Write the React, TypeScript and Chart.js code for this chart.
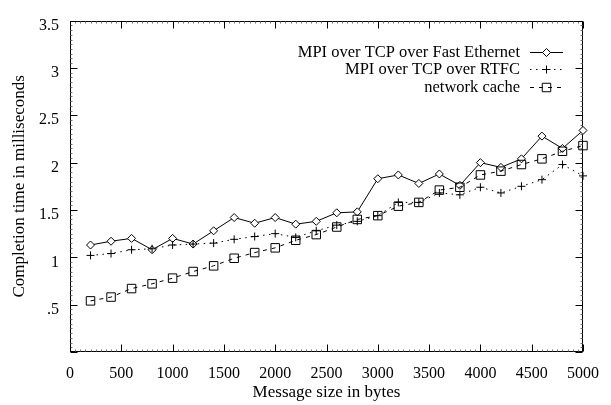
import React, { useEffect, useRef } from 'react';
import { Chart, registerables } from 'chart.js';
import { drawPoint } from 'chart.js/helpers';

Chart.register(...registerables);

const messageSizes = [200, 400, 600, 800, 1000, 1200, 1400, 1600, 1800, 2000, 2200, 2400, 2600, 2800, 3000, 3200, 3400, 3600, 3800, 4000, 4200, 4400, 4600, 4800, 5000];
const fastEthernet = [1.13, 1.17, 1.20, 1.08, 1.20, 1.14, 1.28, 1.42, 1.36, 1.42, 1.35, 1.38, 1.47, 1.48, 1.83, 1.87, 1.78, 1.88, 1.76, 2.00, 1.95, 2.04, 2.28, 2.15, 2.34];
const rtfc = [1.02, 1.04, 1.08, 1.09, 1.13, 1.14, 1.15, 1.19, 1.22, 1.25, 1.21, 1.28, 1.34, 1.38, 1.44, 1.58, 1.58, 1.68, 1.66, 1.74, 1.68, 1.75, 1.82, 1.98, 1.86];
const networkCache = [0.54, 0.58, 0.67, 0.72, 0.78, 0.85, 0.91, 0.99, 1.05, 1.10, 1.18, 1.24, 1.32, 1.40, 1.44, 1.54, 1.58, 1.71, 1.74, 1.87, 1.91, 1.98, 2.04, 2.12, 2.18];
const seriesLabels = ['MPI over TCP over Fast Ethernet', 'MPI over TCP over RTFC', 'network cache'];
const xTitle = 'Message size in bytes';
const yTitle = 'Completion time in milliseconds';

const FONT = '"Liberation Serif", "Times New Roman", serif';

const framePlugin = {
  id: 'gpFrame',
  beforeDatasetsDraw(chart: any) {
    const { ctx, chartArea, scales } = chart;
    const xs = scales.x, ys = scales.y;
    const L = Math.round(chartArea.left) + 0.5;
    const R = Math.round(chartArea.right) - 0.5;
    const T = Math.round(chartArea.top) + 0.5;
    const B = Math.round(chartArea.bottom) - 0.5;
    ctx.save();
    ctx.strokeStyle = '#000';
    ctx.lineWidth = 1;
    ctx.strokeRect(L, T, R - L, B - T);
    // minor ticks
    ctx.strokeStyle = '#777';
    ctx.beginPath();
    for (let v = 0; v <= 5000; v += 50) {
      if (v % 500 === 0) continue;
      const px = Math.round(xs.getPixelForValue(v)) + 0.5;
      ctx.moveTo(px, B); ctx.lineTo(px, B - 2);
      ctx.moveTo(px, T); ctx.lineTo(px, T + 2);
    }
    for (let i = 0; i <= 70; i++) {
      if (i % 10 === 0) continue;
      const py = Math.round(ys.getPixelForValue(i * 0.05)) + 0.5;
      ctx.moveTo(L, py); ctx.lineTo(L + 2, py);
      ctx.moveTo(R, py); ctx.lineTo(R - 2, py);
    }
    ctx.stroke();
    // major ticks
    ctx.strokeStyle = '#000';
    ctx.beginPath();
    xs.ticks.forEach((t: any) => {
      const px = Math.round(xs.getPixelForValue(t.value)) + 0.5;
      ctx.moveTo(px, B); ctx.lineTo(px, B - 7);
      ctx.moveTo(px, T); ctx.lineTo(px, T + 7);
    });
    ys.ticks.forEach((t: any) => {
      const py = Math.round(ys.getPixelForValue(t.value)) + 0.5;
      ctx.moveTo(L, py); ctx.lineTo(L + 7, py);
      ctx.moveTo(R, py); ctx.lineTo(R - 7, py);
    });
    ctx.stroke();
    ctx.restore();
  },
};

const legendPlugin = {
  id: 'gpLegend',
  afterDraw(chart: any) {
    const { ctx, chartArea } = chart;
    const textRight = chartArea.right - 63;
    const x0 = chartArea.right - 53;
    const x1 = chartArea.right - 20;
    ctx.save();
    chart.data.datasets.forEach((ds: any, i: number) => {
      const y = Math.round(chartArea.top + 31 + i * 17.5) + 0.5;
      ctx.fillStyle = '#000';
      ctx.font = '16.5px ' + FONT;
      ctx.textAlign = 'right';
      ctx.textBaseline = 'middle';
      ctx.fillText(ds.label, textRight, y);
      ctx.strokeStyle = '#000';
      ctx.lineWidth = 1;
      ctx.setLineDash(ds.borderDash || []);
      ctx.beginPath();
      ctx.moveTo(x0, y);
      ctx.lineTo(x1, y);
      ctx.stroke();
      ctx.setLineDash([]);
      ctx.fillStyle = ds.pointBackgroundColor;
      ctx.strokeStyle = '#000';
      drawPoint(ctx, { pointStyle: ds.pointStyle, radius: ds.pointRadius, rotation: 0, borderWidth: 1 }, (x0 + x1) / 2, y);
    });
    ctx.restore();
  },
};

export default function App() {
  const canvasRef = useRef<HTMLCanvasElement | null>(null);

  useEffect(() => {
    const canvas = canvasRef.current;
    if (!canvas) return;
    const toXY = (vals: number[]) => vals.map((v, i) => ({ x: messageSizes[i], y: v }));
    const chart = new Chart(canvas, {
      type: 'line',
      data: {
        datasets: [
          {
            label: seriesLabels[0],
            data: toXY(fastEthernet),
            borderColor: '#000',
            borderWidth: 1,
            pointStyle: 'rectRot',
            pointRadius: 4,
            pointBackgroundColor: '#fff',
            pointBorderColor: '#000',
            pointBorderWidth: 1,
            tension: 0,
            clip: false,
            order: 3,
          },
          {
            label: seriesLabels[1],
            data: toXY(rtfc),
            borderColor: '#000',
            borderWidth: 1,
            borderDash: [1.5, 4.5],
            pointStyle: 'cross',
            pointRadius: 4,
            pointBackgroundColor: 'rgba(0,0,0,0)',
            pointBorderColor: '#000',
            pointBorderWidth: 1,
            tension: 0,
            clip: false,
            order: 2,
          },
          {
            label: seriesLabels[2],
            data: toXY(networkCache),
            borderColor: '#000',
            borderWidth: 1,
            borderDash: [4, 5],
            pointStyle: 'rect',
            pointRadius: 6,
            pointBackgroundColor: 'rgba(0,0,0,0)',
            pointBorderColor: '#000',
            pointBorderWidth: 1,
            tension: 0,
            clip: false,
            order: 1,
          },
        ],
      } as any,
      options: {
        animation: false,
        responsive: true,
        maintainAspectRatio: false,
        events: [],
        layout: { padding: { top: 10, right: 18, left: 0, bottom: 0 } },
        plugins: { legend: { display: false }, tooltip: { enabled: false } },
        scales: {
          x: {
            type: 'linear',
            min: 0,
            max: 5000,
            afterFit: (s: any) => { s.height = 53; },
            grid: { display: false, drawTicks: false },
            border: { display: false },
            ticks: {
              stepSize: 500,
              color: '#000',
              padding: 12,
              maxRotation: 0,
              autoSkip: false,
              font: { family: FONT, size: 16 },
              callback: (v: any) => String(v),
            },
            title: { display: true, text: xTitle, color: '#000', font: { family: FONT, size: 17 }, padding: { top: 0, bottom: 2 } },
          },
          y: {
            type: 'linear',
            min: 0,
            max: 3.5,
            afterFit: (s: any) => { s.width = 70; },
            grid: { display: false, drawTicks: false },
            border: { display: false },
            ticks: {
              stepSize: 0.5,
              color: '#000',
              padding: 11,
              labelOffset: 5,
              font: { family: FONT, size: 16 },
              callback: (v: any) => (v === 0 ? '' : v < 1 ? String(v).replace(/^0/, '') : String(v)),
            },
            title: { display: true, text: yTitle, color: '#000', font: { family: FONT, size: 17 }, padding: { top: 9, bottom: 0 } },
          },
        },
      } as any,
      plugins: [framePlugin, legendPlugin],
    });
    return () => chart.destroy();
  }, []);

  return (
    <div style={{ position: 'absolute', left: 0, top: 0, width: 611, height: 405, background: '#fff' }}>
      <canvas ref={canvasRef} />
    </div>
  );
}
